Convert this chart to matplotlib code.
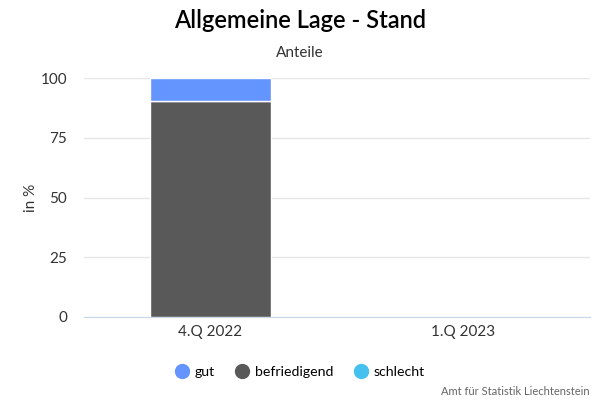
import matplotlib
matplotlib.use('Agg')
import matplotlib.pyplot as plt
import numpy as np
from matplotlib.lines import Line2D

plt.rcParams['font.family'] = ['Lato', 'DejaVu Sans']

categories = ['4.Q 2022', '1.Q 2023']
series = ['gut', 'befriedigend', 'schlecht']
gut = [9.6, 0]
befriedigend = [90.4, 0]
schlecht = [0, 0]
colors = ['#6495ff', '#595959', '#45c1f0']
yticks = [0, 25, 50, 75, 100]

fig = plt.figure(figsize=(6, 4), dpi=100)
ax = fig.add_axes([0.14, 0.2075, 0.843, 0.5975])

x = np.arange(len(categories))
w = 0.48
bottom = np.zeros(len(categories))
for vals, col in [(schlecht, colors[2]), (befriedigend, colors[1]), (gut, colors[0])]:
    v = np.array(vals, dtype=float)
    mask = v > 0
    ax.bar(x[mask], v[mask], w, bottom=bottom[mask], color=col, edgecolor='white', linewidth=1, zorder=3)
    bottom += v

ax.set_xlim(-0.5, 1.5)
ax.set_ylim(0, 100)
ax.set_yticks(yticks)
ax.set_xticks(x)
ax.set_xticklabels(categories)
ax.grid(axis='y', color='#e6e6e6', linewidth=1, zorder=0)
for s in ['top', 'right', 'left']:
    ax.spines[s].set_visible(False)
ax.spines['bottom'].set_color('#ccd6eb')
ax.tick_params(axis='y', length=0, labelsize=11, labelcolor='#333333', pad=12)
ax.tick_params(axis='x', length=0, labelsize=11, labelcolor='#333333', pad=6)
ax.set_ylabel('in %', fontsize=11, color='#333333', labelpad=2)

fig.text(0.5, 0.948, 'Allgemeine Lage - Stand', ha='center', va='center', fontsize=17, fontweight='semibold', color='#000000')
fig.text(0.5, 0.868, 'Anteile', ha='center', va='center', fontsize=11, color='#333333')

handles = [Line2D([0], [0], marker='o', linestyle='', markersize=10, markerfacecolor=c, markeredgecolor=c) for c in colors]
fig.legend(handles, series, loc='center', bbox_to_anchor=(0.494, 0.07), ncol=3, frameon=False,
           fontsize=10.2, handlelength=2.0, handletextpad=-0.1, columnspacing=0.95)
fig.text(0.983, 0.022, 'Amt für Statistik Liechtenstein', ha='right', va='center', fontsize=8, color='#666666')

fig.savefig('out.png', dpi=100)
